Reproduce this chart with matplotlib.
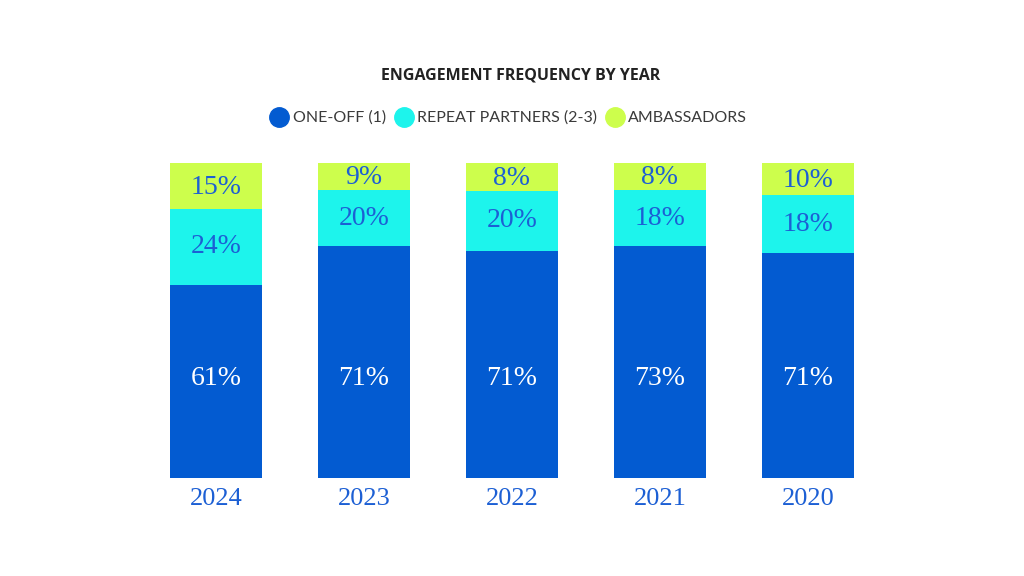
import numpy as np
import matplotlib.pyplot as plt
from matplotlib.lines import Line2D

years = ['2024', '2023', '2022', '2021', '2020']

# printed labels
one_off = [61, 71, 71, 73, 71]
repeat = [24, 20, 20, 18, 18]
ambassadors = [15, 9, 8, 8, 10]

# segment heights as drawn in the original (share of bar, %)
one_off_bar = [61.2, 73.4, 72.1, 73.4, 71.3]
repeat_bar = [24.1, 17.8, 19.0, 17.8, 18.3]
amb_bar = [14.7, 8.8, 8.9, 8.8, 10.4]

c_blue = '#035bd1'
c_cyan = '#1df4ec'
c_green = '#cdfe4c'
c_text = '#1c5fd4'

b1 = np.array(one_off_bar)
b2 = np.array(repeat_bar)
b3 = np.array(amb_bar)

fig = plt.figure(figsize=(10.24, 5.76), dpi=100)
ax = fig.add_axes([142/1024, 98/576, 740/1024, 315.5/576])
x = np.arange(len(years))
w = 0.62

ax.bar(x, b1, w, color=c_blue)
ax.bar(x, b2, w, bottom=b1, color=c_cyan)
ax.bar(x, b3, w, bottom=b1 + b2, color=c_green)

serif = 'Liberation Serif'
for i in range(len(years)):
    ax.text(x[i], 31.6, f'{one_off[i]}%', ha='center', va='center',
            color='white', fontsize=20, family=serif)
    ax.text(x[i], b1[i] + b2[i] / 2, f'{repeat[i]}%', ha='center', va='center',
            color=c_text, fontsize=20, family=serif)
    ax.text(x[i], b1[i] + b2[i] + b3[i] / 2 - 0.5, f'{ambassadors[i]}%', ha='center',
            va='center', color=c_text, fontsize=20, family=serif)

ax.set_xlim(-0.5, len(years) - 0.5)
ax.set_ylim(0, 100)
ax.set_xticks(x)
ax.set_xticklabels(years, fontsize=19, family=serif, color=c_text)
ax.tick_params(axis='x', length=0, pad=7)
ax.set_yticks([])
for s in ax.spines.values():
    s.set_visible(False)

fig.text(0.508, 1 - 75/576, 'ENGAGEMENT FREQUENCY BY YEAR', ha='center', va='center',
         fontsize=11.5, fontweight='bold', family='Open Sans', color='#222222')

handles = [Line2D([], [], marker='o', ls='', markersize=14, color=c)
           for c in (c_blue, c_cyan, c_green)]
labels = ['ONE-OFF (1)', 'REPEAT PARTNERS (2-3)', 'AMBASSADORS']
fig.legend(handles, labels, loc='center', bbox_to_anchor=(0.4965, 1 - 118/576),
           ncol=3, frameon=False, handletextpad=0.25, columnspacing=0.5,
           handlelength=1.2, prop={'family': 'Lato', 'size': 11.5},
           labelcolor='#3a3a3a')

fig.savefig('out.png', dpi=100, facecolor='white')
